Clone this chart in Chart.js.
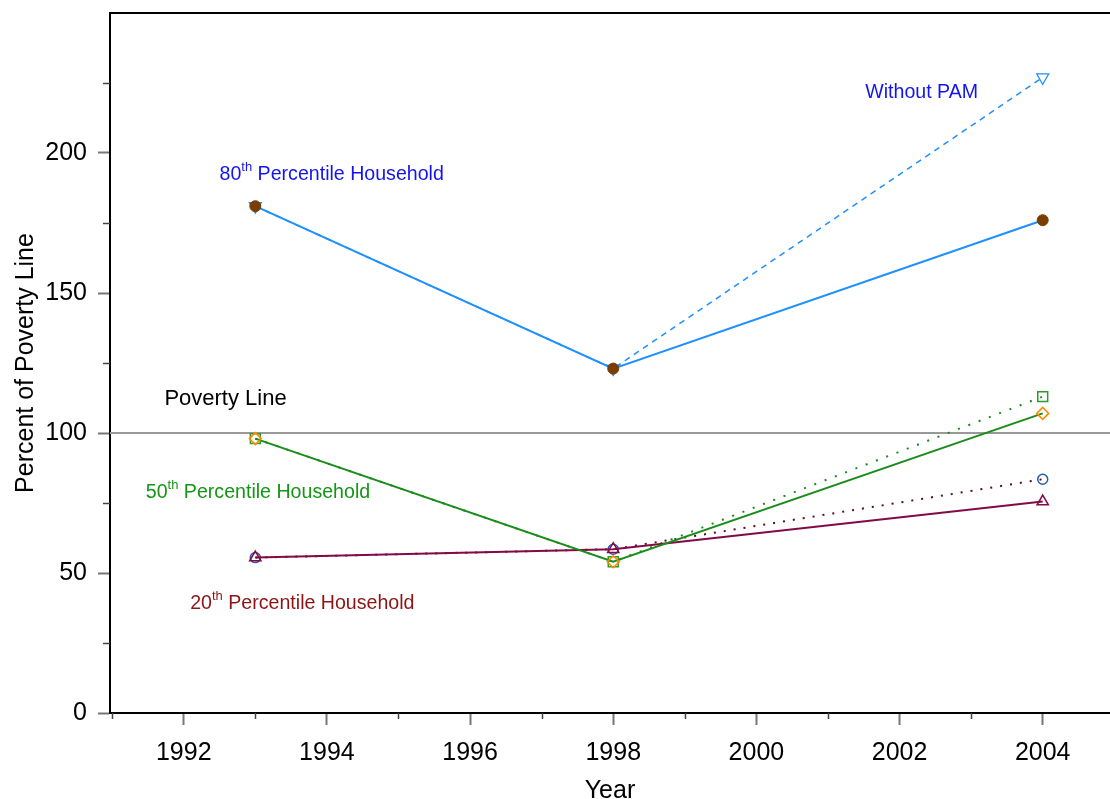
<!DOCTYPE html>
<html>
<head>
<meta charset="utf-8">
<script src="https://cdn.jsdelivr.net/npm/chart.js@4.4.1/dist/chart.umd.min.js"></script>
<style>
  body { margin: 0; background: #fff; overflow: hidden; }
  #wrap { width: 1110px; height: 799px; }
  canvas { display: block; }
</style>
</head>
<body>
<div id="wrap"><canvas id="povertyChart" width="1110" height="799"></canvas></div>
<script>
// Survey years and percent of poverty line per household group
const years = [1993, 1998, 2004];
const p80With = [181, 123, 176];
const p80Without = [181, 123, 227];
const p50With = [98, 54, 107];
const p50Without = [98, 54, 113];
const p20With = [55.5, 58.5, 75.5];
const p20Without = [55.5, 58.5, 83.5];
const povertyLine = 100;

// Axis ticks
const xTicks = [1991, 1992, 1993, 1994, 1995, 1996, 1997, 1998, 1999, 2000, 2001, 2002, 2003, 2004];
const yTicks = [0, 25, 50, 75, 100, 125, 150, 175, 200, 225];

// Text annotations (data coordinates, left/baseline)
const notes = [
    { parts: [['80', 0], ['th', 1], [' Percentile Household', 0]], x: 1992.5, y: 190.4, color: '#1414f0', size: 19.6 },
    { parts: [['Without PAM', 0]], x: 2001.52, y: 219.6, color: '#1414f0', size: 19.6 },
    { parts: [['Poverty Line', 0]], x: 1991.73, y: 110, color: '#000', size: 22 },
    { parts: [['50', 0], ['th', 1], [' Percentile Household', 0]], x: 1991.47, y: 76.8, color: '#149614', size: 19.6 },
    { parts: [['20', 0], ['th', 1], [' Percentile Household', 0]], x: 1992.09, y: 37.1, color: '#8c1414', size: 19.6 }
];

const FONT = '"Liberation Sans", Arial, sans-serif';

function pts(vals) {
    return vals.map((v, i) => ({ x: years[i], y: v }));
}

const extras = {
    id: 'extras',
    beforeDatasetsDraw(chart) {
        const { ctx, chartArea, scales } = chart;
        // poverty reference line
        const py = scales.y.getPixelForValue(povertyLine);
        ctx.save();
        ctx.strokeStyle = '#999';
        ctx.lineWidth = 2;
        ctx.beginPath();
        ctx.moveTo(chartArea.left, py);
        ctx.lineTo(chartArea.right, py);
        ctx.stroke();
        ctx.restore();
    },
    afterDraw(chart) {
        const { ctx, chartArea, scales } = chart;
        ctx.save();
        // top frame line
        ctx.strokeStyle = '#000';
        ctx.lineWidth = 2;
        ctx.beginPath();
        ctx.moveTo(chartArea.left - 1, chartArea.top);
        ctx.lineTo(chartArea.right, chartArea.top);
        ctx.stroke();
        // minor ticks
        ctx.strokeStyle = '#444';
        ctx.lineWidth = 1.5;
        yTicks.filter(v => v % 50 !== 0).forEach(v => {
            const y = Math.round(scales.y.getPixelForValue(v)) + 0.5;
            ctx.beginPath();
            ctx.moveTo(chartArea.left - 7, y);
            ctx.lineTo(chartArea.left, y);
            ctx.stroke();
        });
        xTicks.filter(v => v % 2 !== 0).forEach(v => {
            const x = Math.round(scales.x.getPixelForValue(v)) + 0.5;
            ctx.beginPath();
            ctx.moveTo(x, chartArea.bottom);
            ctx.lineTo(x, chartArea.bottom + 6);
            ctx.stroke();
        });
        // annotations with superscripts
        ctx.textBaseline = 'alphabetic';
        ctx.textAlign = 'left';
        notes.forEach(n => {
            let x = scales.x.getPixelForValue(n.x);
            const y = scales.y.getPixelForValue(n.y);
            ctx.fillStyle = n.color;
            n.parts.forEach(([txt, sup]) => {
                ctx.font = (sup ? '13px ' : n.size + 'px ') + FONT;
                ctx.fillText(txt, x, sup ? y - 9 : y);
                x += ctx.measureText(txt).width;
            });
        });
        ctx.restore();
    }
};

const ctx = document.getElementById('povertyChart').getContext('2d');
const povertyChart = new Chart(ctx, {
    type: 'line',
    data: {
        datasets: [
            {
                label: '80th with PAM', data: pts(p80With),
                borderColor: '#1e90ff', borderWidth: 2,
                pointStyle: 'circle', pointRadius: 5.5,
                pointBackgroundColor: '#7a3d00', pointBorderColor: '#7a3d00', pointBorderWidth: 1
            },
            {
                label: '50th with PAM', data: pts(p50With),
                borderColor: '#1a8c1a', borderWidth: 2,
                pointStyle: 'rectRot', pointRadius: 6,
                pointBackgroundColor: 'rgba(0,0,0,0)', pointBorderColor: '#ff8c00', pointBorderWidth: 1.5
            },
            {
                label: '20th with PAM', data: pts(p20With),
                borderColor: '#820a46', borderWidth: 2,
                pointStyle: 'triangle', pointRadius: 6.5,
                pointBackgroundColor: 'rgba(0,0,0,0)', pointBorderColor: '#820a46', pointBorderWidth: 1.5
            },
            {
                label: '80th without PAM', data: pts(p80Without),
                borderColor: '#1e90ff', borderWidth: 1.5, borderDash: [6, 5],
                pointStyle: 'triangle', rotation: 180, pointRadius: 7,
                pointBackgroundColor: 'rgba(0,0,0,0)', pointBorderColor: '#1e90ff', pointBorderWidth: 1.2
            },
            {
                label: '50th without PAM', data: pts(p50Without),
                borderColor: '#1a8c1a', borderWidth: 2, borderDash: [2, 9],
                pointStyle: 'rect', pointRadius: 7,
                pointBackgroundColor: 'rgba(0,0,0,0)', pointBorderColor: '#2e9a2e', pointBorderWidth: 1.5
            },
            {
                label: '20th without PAM', data: pts(p20Without),
                borderColor: '#5a0a30', borderWidth: 2, borderDash: [2, 8],
                pointStyle: 'circle', pointRadius: 5,
                pointBackgroundColor: 'rgba(0,0,0,0)', pointBorderColor: '#2a5caa', pointBorderWidth: 1.5
            }
        ]
    },
    options: {
        responsive: false,
        animation: false,
        layout: { autoPadding: false, padding: { top: 13, right: 0, left: 0, bottom: 0 } },
        plugins: {
            legend: { display: false },
            tooltip: { enabled: false }
        },
        elements: { line: { tension: 0 } },
        scales: {
            x: {
                type: 'linear',
                min: 1990.97,
                max: 2004.94,
                afterFit: s => { s.height = 86; s.paddingLeft = 0; s.paddingRight = 0; },
                afterBuildTicks: s => { s.ticks = xTicks.map(v => ({ value: v })); },
                border: { display: true, color: '#000', width: 2 },
                grid: {
                    drawOnChartArea: false,
                    drawTicks: true,
                    tickLength: 12,
                    tickWidth: 2,
                    tickColor: c => (c.tick && c.tick.value % 2 === 0) ? '#777' : 'rgba(0,0,0,0)'
                },
                ticks: {
                    color: '#000',
                    font: { family: FONT, size: 25 },
                    padding: 13,
                    maxRotation: 0,
                    autoSkip: false,
                    callback: v => v % 2 === 0 ? String(v) : ''
                },
                title: {
                    display: true, text: 'Year', color: '#000',
                    font: { family: FONT, size: 25, lineHeight: 0.62 },
                    padding: { top: 0, bottom: 0 }
                }
            },
            y: {
                min: 0,
                max: 250,
                afterFit: s => { s.width = 110; s.paddingTop = 0; s.paddingBottom = 0; },
                afterBuildTicks: s => { s.ticks = yTicks.map(v => ({ value: v })); },
                border: { display: true, color: '#000', width: 2 },
                grid: {
                    drawOnChartArea: false,
                    drawTicks: true,
                    tickLength: 12,
                    tickWidth: 2,
                    tickColor: c => (c.tick && c.tick.value % 50 === 0) ? '#777' : 'rgba(0,0,0,0)'
                },
                ticks: {
                    color: '#000',
                    font: { family: FONT, size: 25 },
                    padding: 11,
                    autoSkip: false,
                    callback: v => v % 50 === 0 ? String(v) : ''
                },
                title: {
                    display: true, text: 'Percent of Poverty Line', color: '#000',
                    font: { family: FONT, size: 25, lineHeight: 0.78 },
                    padding: { top: 16, bottom: 0 }
                }
            }
        }
    },
    plugins: [extras]
});
</script>
</body>
</html>
